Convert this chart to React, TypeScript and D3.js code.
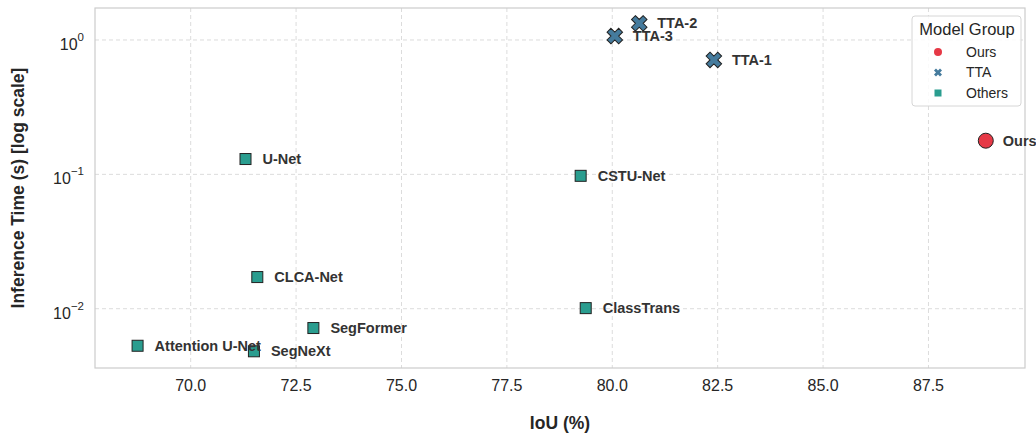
import React from 'react';
import * as d3 from 'd3';

// models, IoU (%) and inference time (s)
const models = ['Ours', 'TTA-1', 'TTA-2', 'TTA-3', 'U-Net', 'CSTU-Net', 'CLCA-Net', 'ClassTrans', 'SegFormer', 'Attention U-Net', 'SegNeXt'];
const groups = ['Ours', 'TTA', 'TTA', 'TTA', 'Others', 'Others', 'Others', 'Others', 'Others', 'Others', 'Others'];
const iou = [88.86, 82.41, 80.64, 80.06, 71.3, 79.25, 71.58, 79.37, 72.91, 68.74, 71.5];
const time = [0.178, 0.71, 1.33, 1.07, 0.13, 0.0975, 0.0172, 0.0101, 0.00718, 0.0053, 0.00482];

const legendGroups = ['Ours', 'TTA', 'Others'];
const groupColors = ['#e63946', '#457b9d', '#2a9d8f'];
const xTicks = [70, 72.5, 75, 77.5, 80, 82.5, 85, 87.5];
const yTicks = [1, 0.1, 0.01];
const yTickExp = ['0', '\u22121', '\u22122'];

const W = 1036;
const H = 434;
const m = { left: 95, right: 1025, top: 8, bottom: 368 };
const font = 'Liberation Sans, Arial, sans-serif';

const x = d3.scaleLinear().domain([67.73, 89.79]).range([m.left, m.right]);
const y = d3.scaleLog().domain([0.00362, 1.73]).range([m.bottom, m.top]);
const color = d3.scaleOrdinal<string, string>().domain(legendGroups).range(groupColors);

const crossPath = (size: number) => d3.symbol(d3.symbolCross, size)();

function Marker({ group, cx, cy, big }: { group: string; cx: number; cy: number; big: boolean }) {
  const fill = color(group);
  if (group === 'Ours') {
    return <circle cx={cx} cy={cy} r={big ? 7.5 : 4} fill={fill} stroke={big ? '#222' : 'none'} strokeWidth={1} />;
  }
  if (group === 'TTA') {
    return (
      <path
        d={crossPath(big ? 150 : 40) || ''}
        transform={`translate(${cx},${cy}) rotate(45)`}
        fill={fill}
        stroke={big ? '#222' : 'none'}
        strokeWidth={1}
      />
    );
  }
  const s = big ? 11 : 7;
  return <rect x={cx - s / 2} y={cy - s / 2} width={s} height={s} fill={fill} stroke={big ? '#222' : 'none'} strokeWidth={1} />;
}

export default function App() {
  const plotW = m.right - m.left;
  const plotH = m.bottom - m.top;
  return (
    <svg width={W} height={H} style={{ position: 'absolute', left: 0, top: 0, background: '#fff' }} fontFamily={font}>
      {/* grid */}
      {xTicks.map(t => (
        <line key={'gx' + t} x1={x(t)} x2={x(t)} y1={m.top} y2={m.bottom} stroke="#dcdcdc" strokeDasharray="4,3" strokeWidth={1} />
      ))}
      {yTicks.map(t => (
        <line key={'gy' + t} x1={m.left} x2={m.right} y1={y(t)} y2={y(t)} stroke="#dcdcdc" strokeDasharray="4,3" strokeWidth={1} />
      ))}
      <rect x={m.left} y={m.top} width={plotW} height={plotH} fill="none" stroke="#cccccc" strokeWidth={1.2} />

      {/* x ticks */}
      {xTicks.map(t => (
        <text key={'tx' + t} x={x(t)} y={m.bottom + 23} textAnchor="middle" fontSize={16} fill="#262626">
          {t.toFixed(1)}
        </text>
      ))}
      {/* y ticks */}
      {yTicks.map((t, i) => (
        <text key={'ty' + t} x={84} y={y(t) + 10} textAnchor="end" fontSize={16} fill="#262626">
          10
          <tspan dy={-9} fontSize={11.5}>{yTickExp[i]}</tspan>
        </text>
      ))}

      {/* axis titles */}
      <text x={(m.left + m.right) / 2} y={429} textAnchor="middle" fontSize={17.5} fontWeight="bold" fill="#262626">
        IoU (%)
      </text>
      <text
        transform={`translate(24,${(m.top + m.bottom) / 2}) rotate(-90)`}
        textAnchor="middle"
        fontSize={17.5}
        fontWeight="bold"
        fill="#262626"
      >
        Inference Time (s) [log scale]
      </text>

      {/* points */}
      {models.map((name, i) => (
        <Marker key={'p' + name} group={groups[i]} cx={x(iou[i])} cy={y(time[i])} big={true} />
      ))}
      {models.map((name, i) => (
        <text
          key={'l' + name}
          x={x(iou[i]) + (groups[i] === 'TTA' ? 18 : 17)}
          y={y(time[i])}
          dy="0.35em"
          fontSize={14.5}
          fontWeight="bold"
          fill="#333"
        >
          {name}
        </text>
      ))}

      {/* legend */}
      <g>
        <rect x={912} y={16} width={109} height={90} rx={3} fill="#fff" fillOpacity={0.85} stroke="#d6d6d6" strokeWidth={1} />
        <text x={967} y={35} textAnchor="middle" fontSize={16.5} fill="#262626">
          Model Group
        </text>
        {legendGroups.map((g, i) => (
          <g key={'lg' + g}>
            <Marker group={g} cx={938} cy={52 + i * 20.5} big={false} />
            <text x={966} y={52 + i * 20.5} dy="0.35em" fontSize={14} fill="#262626">
              {g}
            </text>
          </g>
        ))}
      </g>
    </svg>
  );
}
